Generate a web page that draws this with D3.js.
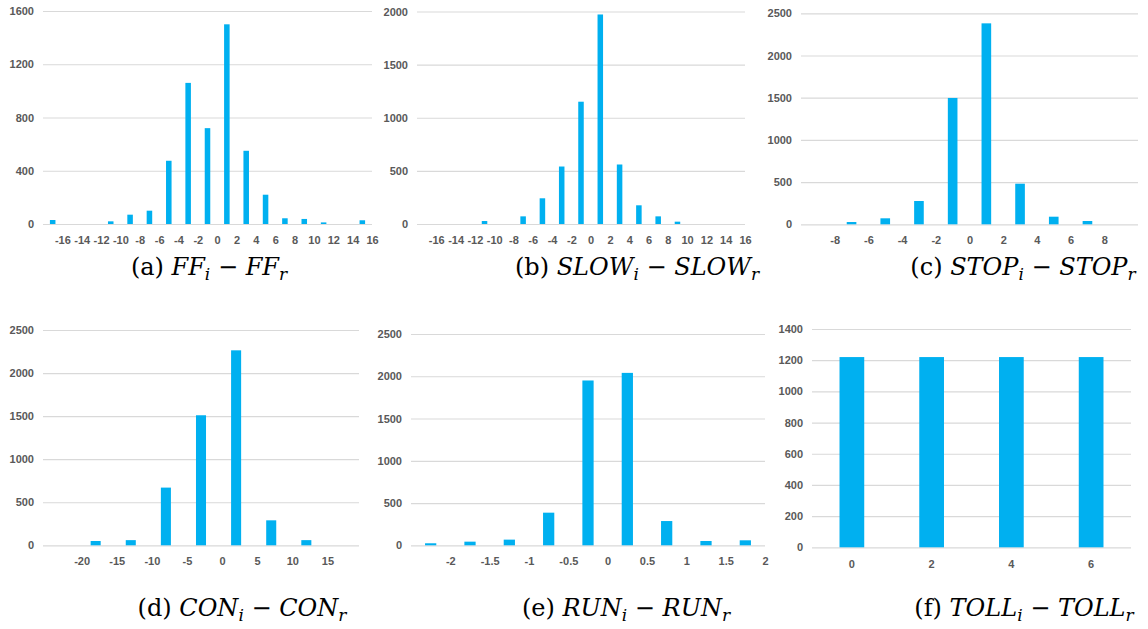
<!DOCTYPE html>
<html>
<head>
<meta charset="utf-8">
<script src="https://cdn.jsdelivr.net/npm/d3@7/dist/d3.min.js"></script>
<style>
  html, body { margin: 0; padding: 0; background: #fff; }
  svg { display: block; }
  .tick text { font-family: "Liberation Sans", Arial, sans-serif; font-weight: bold; font-size: 11px; fill: #595959; }
  .caption { font-family: "DejaVu Serif", "Liberation Serif", serif; font-size: 24px; fill: #000; }
</style>
</head>
<body>
<svg id="chart" width="1148" height="629"></svg>
<script>
// Histogram bin centres and counts for each difference measure
const ffBins = [-17, -15, -13, -11, -9, -7, -5, -3, -1, 1, 3, 5, 7, 9, 11, 13, 15];
const ffCounts = [30, 0, 0, 20, 70, 100, 475, 1060, 720, 1500, 550, 220, 43, 38, 12, 0, 28];
const ffTicks = [-16, -14, -12, -10, -8, -6, -4, -2, 0, 2, 4, 6, 8, 10, 12, 14, 16];

const slowBins = [-17, -15, -13, -11, -9, -7, -5, -3, -1, 1, 3, 5, 7, 9, 11, 13, 15];
const slowCounts = [0, 0, 0, 28, 0, 72, 242, 541, 1151, 1972, 560, 176, 72, 22, 0, 0, 0];
const slowTicks = [-16, -14, -12, -10, -8, -6, -4, -2, 0, 2, 4, 6, 8, 10, 12, 14, 16];

const stopBins = [-9, -7, -5, -3, -1, 1, 3, 5, 7, 9];
const stopCounts = [0, 27, 71, 276, 1497, 2381, 481, 90, 39, 0];
const stopTicks = [-8, -6, -4, -2, 0, 2, 4, 6, 8];

const conBins = [-23, -18, -13, -8, -3, 2, 7, 12, 17];
const conCounts = [0, 50, 60, 670, 1510, 2264, 290, 60, 0];
const conTicks = [-20, -15, -10, -5, 0, 5, 10, 15];

const runBins = [-2.25, -1.75, -1.25, -0.75, -0.25, 0.25, 0.75, 1.25, 1.75];
const runCounts = [24, 43, 67, 386, 1950, 2040, 287, 51, 59];
const runTicks = [-2, -1.5, -1, -0.5, 0, 0.5, 1, 1.5, 2];

const tollBins = [0, 2, 4, 6];
const tollCounts = [1220, 1220, 1220, 1220];

const yTicksFF = [0, 400, 800, 1200, 1600];
const yTicksSlow = [0, 500, 1000, 1500, 2000];
const yTicks2500 = [0, 500, 1000, 1500, 2000, 2500];
const yTicksToll = [0, 200, 400, 600, 800, 1000, 1200, 1400];

const captions = [
  { tag: "(a) ", v: "FF" },
  { tag: "(b) ", v: "SLOW" },
  { tag: "(c) ", v: "STOP" },
  { tag: "(d) ", v: "CON" },
  { tag: "(e) ", v: "RUN" },
  { tag: "(f) ", v: "TOLL" }
];

const svg = d3.select("#chart");
const BAR = "#00b0f0";
const GRID = "#d9d9d9";
const fmt = d => String(d);

// A histogram panel on a linear x axis (bin edges labelled)
function linearPanel(p) {
  const g = svg.append("g");
  const x = d3.scaleLinear().domain(p.xDomain).range([p.left, p.right]);
  const y = d3.scaleLinear().domain([0, p.yMax]).range([p.bottom, p.top]);

  g.append("g")
    .attr("transform", `translate(${p.left},0)`)
    .call(d3.axisLeft(y).tickValues(p.yTicks).tickFormat(fmt)
      .tickSize(-(p.right - p.left)).tickPadding(9))
    .call(a => a.select(".domain").remove())
    .call(a => a.selectAll(".tick line").attr("stroke", GRID).attr("stroke-width", 1.2));

  g.append("g")
    .attr("transform", `translate(0,${p.bottom})`)
    .call(d3.axisBottom(x).tickValues(p.xTicks).tickFormat(fmt).tickSize(0).tickPadding(12))
    .call(a => a.select(".domain").remove());

  const bw = Math.abs(x(p.step) - x(0)) * 0.286;
  g.selectAll("rect").data(p.bins.map((b, i) => ({ b, c: p.counts[i] })).filter(d => d.c > 0))
    .join("rect")
    .attr("x", d => x(d.b) - bw / 2)
    .attr("width", bw)
    .attr("y", d => y(d.c))
    .attr("height", d => y(0) - y(d.c))
    .attr("fill", BAR);
}

// A bar panel on a band axis (category labels centred)
function bandPanel(p) {
  const g = svg.append("g");
  const x = d3.scaleBand().domain(p.bins).range([p.left, p.right]);
  const y = d3.scaleLinear().domain([0, p.yMax]).range([p.bottom, p.top]);

  g.append("g")
    .attr("transform", `translate(${p.left},0)`)
    .call(d3.axisLeft(y).tickValues(p.yTicks).tickFormat(fmt)
      .tickSize(-(p.right - p.left)).tickPadding(9))
    .call(a => a.select(".domain").remove())
    .call(a => a.selectAll(".tick line").attr("stroke", GRID).attr("stroke-width", 1.2));

  g.append("g")
    .attr("transform", `translate(0,${p.bottom})`)
    .call(d3.axisBottom(x).tickFormat(fmt).tickSize(0).tickPadding(13))
    .call(a => a.select(".domain").remove());

  const bw = x.bandwidth() * 0.31;
  g.selectAll("rect").data(p.bins.map((b, i) => ({ b, c: p.counts[i] })))
    .join("rect")
    .attr("x", d => x(d.b) + x.bandwidth() / 2 - bw / 2)
    .attr("width", bw)
    .attr("y", d => y(d.c))
    .attr("height", d => y(0) - y(d.c))
    .attr("fill", BAR);
}

linearPanel({ left: 43, right: 372, top: 11, bottom: 224, yMax: 1600, yTicks: yTicksFF,
  xDomain: [-18, 16], xTicks: ffTicks, step: 2, bins: ffBins, counts: ffCounts });
linearPanel({ left: 417, right: 745, top: 11.5, bottom: 224, yMax: 2000, yTicks: yTicksSlow,
  xDomain: [-18, 16], xTicks: slowTicks, step: 2, bins: slowBins, counts: slowCounts });
linearPanel({ left: 801, right: 1138, top: 13.3, bottom: 224.3, yMax: 2500, yTicks: yTicks2500,
  xDomain: [-10, 10], xTicks: stopTicks, step: 2, bins: stopBins, counts: stopCounts });
linearPanel({ left: 43, right: 359, top: 330, bottom: 545.3, yMax: 2500, yTicks: yTicks2500,
  xDomain: [-25.5, 19.5], xTicks: conTicks, step: 5, bins: conBins, counts: conCounts });
linearPanel({ left: 411, right: 765, top: 334, bottom: 545.3, yMax: 2500, yTicks: yTicks2500,
  xDomain: [-2.5, 2], xTicks: runTicks, step: 0.5, bins: runBins, counts: runCounts });
bandPanel({ left: 812, right: 1131, top: 329, bottom: 547.3, yMax: 1400, yTicks: yTicksToll,
  bins: tollBins, counts: tollCounts });

// Sub-figure captions: (x) VAR_i − VAR_r
const capPos = [[209, 275], [637, 275], [1023, 275], [242, 616], [626, 616], [1024, 616]];
captions.forEach((c, i) => {
  const t = svg.append("text").attr("class", "caption")
    .attr("x", capPos[i][0]).attr("y", capPos[i][1]).attr("text-anchor", "middle");
  t.append("tspan").text(c.tag);
  t.append("tspan").attr("font-style", "italic").text(c.v);
  t.append("tspan").attr("font-style", "italic").attr("font-size", "17px").attr("dy", 5).text("i");
  t.append("tspan").attr("dy", -5).text(" \u2212 ");
  t.append("tspan").attr("font-style", "italic").text(c.v);
  t.append("tspan").attr("font-style", "italic").attr("font-size", "17px").attr("dy", 5).text("r");
});
</script>
</body>
</html>
